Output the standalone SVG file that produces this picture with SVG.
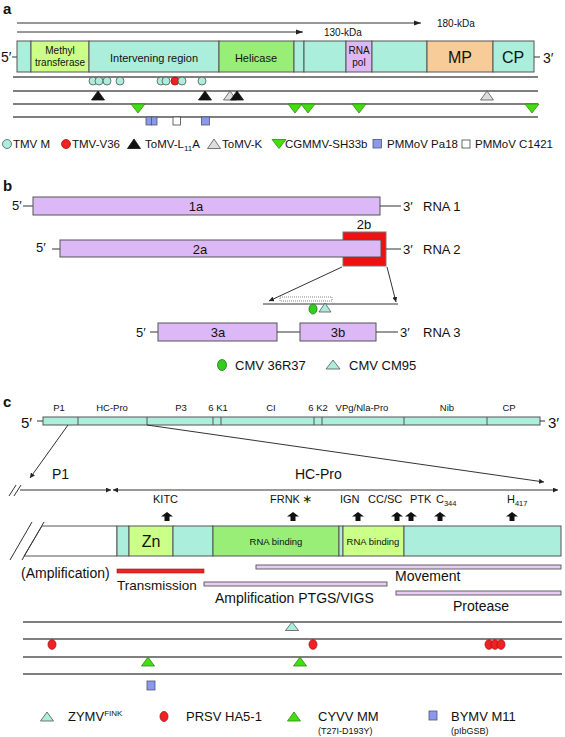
<svg xmlns="http://www.w3.org/2000/svg" width="565" height="737" viewBox="0 0 565 737">
<defs>
<marker id="ah" markerWidth="8" markerHeight="6" refX="7" refY="3" orient="auto" markerUnits="userSpaceOnUse"><path d="M0,0.5 L7,3 L0,5.5 Z" fill="#222"/></marker>
<marker id="ahs" markerWidth="6" markerHeight="5" refX="5" refY="2.5" orient="auto-start-reverse" markerUnits="userSpaceOnUse"><path d="M0,0 L5,2.5 L0,5 Z" fill="#222"/></marker>
<style>
text{font-family:"Liberation Sans",Arial,sans-serif;fill:#111}
.lbl{font-weight:bold;font-size:15px}
.seg{stroke:#555;stroke-width:1}
.teal{fill:#AAEEDB}
.ln{stroke:#555;stroke-width:1.3;fill:none}
.thin{stroke:#333;stroke-width:1;fill:none}
.tmvm{fill:#AAEEDB;stroke:#555;stroke-width:0.8}
.red{fill:#EE2222;stroke:#AA1111;stroke-width:0.8}
.blk{fill:#111;stroke:#111;stroke-width:0.8}
.gry{fill:#DDDDDD;stroke:#555;stroke-width:0.8}
.grn{fill:#44DD11;stroke:#338811;stroke-width:0.8}
.blue{fill:#8899EE;stroke:#556;stroke-width:0.8}
.wht{fill:#fff;stroke:#444;stroke-width:0.8}
.lav{fill:#DDB8F6;stroke:#555;stroke-width:1}
.bar{fill:#E8CCF2;stroke:#555;stroke-width:0.9}
.uparr{fill:#111}
.leg{font-size:11.5px}
</style>
</defs>

<!-- Panel a -->
<g id="panel-a">
<text class="lbl" x="3" y="14">a</text>
<g id="a-kda">
<line class="thin" x1="17" y1="23" x2="421" y2="23" marker-end="url(#ah)"/>
<text x="437" y="27" font-size="10">180-kDa</text>
<line class="thin" x1="17" y1="32" x2="303" y2="32" marker-end="url(#ah)"/>
<text x="324" y="36" font-size="10">130-kDa</text>
</g>
<g id="a-genome">
<line class="thin" x1="12" y1="57" x2="17" y2="57"/>
<text x="1" y="62" font-size="14">5′</text>
<rect class="teal seg" x="17" y="41" width="14" height="31"/>
<rect class="seg" x="31" y="41" width="58" height="31" fill="#CCFF88"/>
<text x="60" y="54" font-size="10" text-anchor="middle">Methyl</text>
<text x="60" y="66" font-size="10" text-anchor="middle">transferase</text>
<rect class="teal seg" x="89" y="41" width="130" height="31"/>
<text x="154" y="62" font-size="11" text-anchor="middle">Intervening region</text>
<rect class="seg" x="219" y="41" width="75" height="31" fill="#99EE77"/>
<text x="256" y="62" font-size="11" text-anchor="middle">Helicase</text>
<rect class="teal seg" x="294" y="41" width="10" height="31"/>
<rect class="teal seg" x="304" y="41" width="42" height="31"/>
<rect class="seg" x="346" y="41" width="26" height="31" fill="#DDB8F4"/>
<text x="359" y="54" font-size="10" text-anchor="middle">RNA</text>
<text x="359" y="66" font-size="10" text-anchor="middle">pol</text>
<rect class="teal seg" x="372" y="41" width="55" height="31"/>
<rect class="seg" x="427" y="41" width="66" height="31" fill="#F7CC99"/>
<text x="460" y="63" font-size="16" text-anchor="middle">MP</text>
<rect class="teal seg" x="493" y="41" width="41" height="31"/>
<text x="513" y="63" font-size="16" text-anchor="middle">CP</text>
<line class="thin" x1="534" y1="57" x2="540" y2="57"/>
<text x="543" y="63" font-size="14">3′</text>
</g>
<g id="a-lines">
<line class="ln" x1="13" y1="77" x2="538" y2="77"/>
<line class="ln" x1="13" y1="91" x2="538" y2="91"/>
<line class="ln" x1="13" y1="104" x2="538" y2="104"/>
<line class="ln" x1="13" y1="117" x2="538" y2="117"/>
</g>
<g id="a-markers">
<circle class="tmvm" cx="93" cy="81" r="4"/>
<circle class="tmvm" cx="99" cy="81" r="4"/>
<circle class="tmvm" cx="107" cy="81" r="4"/>
<circle class="tmvm" cx="120" cy="81" r="4"/>
<circle class="tmvm" cx="161" cy="81" r="4"/>
<circle class="tmvm" cx="166" cy="81" r="4"/>
<circle class="red" cx="175" cy="81" r="4"/>
<circle class="tmvm" cx="182" cy="81" r="4"/>
<circle class="tmvm" cx="202" cy="81" r="4"/>
<polygon class="blk" points="98,91 91.5,100 104.5,100"/>
<polygon class="blk" points="205,91 198.5,100 211.5,100"/>
<polygon class="gry" points="230,91 223.5,100 236.5,100"/>
<polygon class="blk" points="237,91 230.5,100 243.5,100"/>
<polygon class="gry" points="487,91 480.5,100 493.5,100"/>
<polygon class="grn" points="131,104 145,104 138,113"/>
<polygon class="grn" points="288,104 302,104 295,113"/>
<polygon class="grn" points="301,104 315,104 308,113"/>
<polygon class="grn" points="352,104 366,104 359,113"/>
<polygon class="grn" points="525,104 539,104 532,113"/>
<rect class="blue" x="146" y="117" width="5.5" height="8"/>
<rect class="blue" x="151.5" y="117" width="5.5" height="8"/>
<rect class="wht" x="173" y="117" width="7.5" height="8"/>
<rect class="blue" x="201.5" y="117" width="8" height="8"/>
</g>
<g id="a-legend">
<circle class="tmvm" cx="7" cy="144" r="4.5"/>
<text class="leg" x="13" y="148">TMV M</text>
<circle class="red" cx="66" cy="144" r="4.5"/>
<text class="leg" x="72" y="148">TMV-V36</text>
<polygon class="blk" points="134,139 127.5,148.5 140.5,148.5"/>
<text class="leg" x="145" y="148">ToMV-L<tspan font-size="8" dy="3">11</tspan><tspan dy="-3">A</tspan></text>
<polygon class="gry" points="214,139 207.5,148.5 220.5,148.5"/>
<text class="leg" x="222" y="148">ToMV-K</text>
<polygon class="grn" points="272,139.5 286,139.5 279,148.5"/>
<text class="leg" x="285" y="148">CGMMV-SH33b</text>
<rect class="blue" x="373" y="139.5" width="8.5" height="8.5"/>
<text class="leg" x="387" y="148">PMMoV Pa18</text>
<rect class="wht" x="462" y="140" width="8" height="8"/>
<text class="leg" x="475" y="148">PMMoV C1421</text>
</g>
</g>

<!-- Panel b -->
<g id="panel-b">
<text class="lbl" x="3" y="191">b</text>
<g id="rna1">
<text x="12" y="210" font-size="13">5′</text>
<line class="thin" x1="23" y1="206" x2="33" y2="206"/>
<rect class="lav" x="33" y="197" width="347" height="18"/>
<text x="196" y="211" font-size="13" text-anchor="middle">1a</text>
<line class="thin" x1="380" y1="206" x2="401" y2="206"/>
<text x="403" y="211" font-size="13">3′</text>
<text x="423" y="211" font-size="13">RNA 1</text>
</g>
<g id="rna2">
<text x="36" y="252" font-size="13">5′</text>
<line class="thin" x1="52" y1="249" x2="60" y2="249"/>
<rect x="343" y="232" width="43" height="34" fill="#EE1111" stroke="#777" stroke-width="1"/>
<rect class="lav" x="60" y="240" width="321" height="17"/>
<text x="200" y="254" font-size="13" text-anchor="middle">2a</text>
<text x="364" y="229" font-size="13" text-anchor="middle">2b</text>
<line class="thin" x1="386" y1="249" x2="401" y2="249"/>
<text x="403" y="254" font-size="13">3′</text>
<text x="423" y="254" font-size="13">RNA 2</text>
</g>
<g id="b-connectors">
<line class="thin" x1="342" y1="267" x2="269" y2="301" marker-end="url(#ahs)"/>
<line class="thin" x1="387" y1="267" x2="396" y2="302" marker-end="url(#ahs)"/>
</g>
<g id="b-detail">
<line class="thin" x1="263" y1="304" x2="398" y2="304"/>
<rect x="280" y="297" width="52" height="4" fill="#fff" stroke="#666" stroke-width="0.8" stroke-dasharray="1,1"/>
<ellipse cx="313" cy="309" rx="4" ry="5" fill="#33CC22" stroke="#227711" stroke-width="0.8"/>
<polygon class="tmvm" points="325,303 319,312 331,312"/>
</g>
<g id="rna3">
<text x="136" y="337" font-size="13">5′</text>
<line class="thin" x1="150" y1="332" x2="158" y2="332"/>
<rect class="lav" x="158" y="323" width="119" height="18"/>
<text x="218" y="337" font-size="13" text-anchor="middle">3a</text>
<line class="thin" x1="277" y1="332" x2="300" y2="332"/>
<rect class="lav" x="300" y="323" width="76" height="18"/>
<text x="338" y="337" font-size="13" text-anchor="middle">3b</text>
<line class="thin" x1="376" y1="332" x2="398" y2="332"/>
<text x="400" y="337" font-size="13">3′</text>
<text x="423" y="337" font-size="13">RNA 3</text>
</g>
<g id="b-legend">
<ellipse cx="222" cy="365" rx="4.5" ry="5.5" fill="#33CC22" stroke="#227711" stroke-width="0.8"/>
<text x="235" y="370" font-size="13">CMV 36R37</text>
<polygon class="tmvm" points="333,360 326,369 340,369"/>
<text x="349" y="370" font-size="13">CMV CM95</text>
</g>
</g>

<!-- Panel c -->
<g id="panel-c">
<text class="lbl" x="3" y="407">c</text>
<g id="c-polyprotein">
<text x="59" y="411" font-size="9.5" text-anchor="middle">P1</text>
<text x="112" y="411" font-size="9.5" text-anchor="middle">HC-Pro</text>
<text x="181" y="411" font-size="9.5" text-anchor="middle">P3</text>
<text x="218" y="411" font-size="9.5" text-anchor="middle">6 K1</text>
<text x="271" y="411" font-size="9.5" text-anchor="middle">CI</text>
<text x="318" y="411" font-size="9.5" text-anchor="middle">6 K2</text>
<text x="362" y="411" font-size="9.5" text-anchor="middle">VPg/Nla-Pro</text>
<text x="447" y="411" font-size="9.5" text-anchor="middle">Nib</text>
<text x="509" y="411" font-size="9.5" text-anchor="middle">CP</text>
<text x="21" y="428" font-size="15">5′</text>
<line class="thin" x1="37" y1="421" x2="43" y2="421"/>
<rect class="teal seg" x="43" y="417" width="497" height="8"/>
<line class="seg" x1="78" y1="417" x2="78" y2="425"/>
<line class="seg" x1="147" y1="417" x2="147" y2="425"/>
<line class="seg" x1="213" y1="417" x2="213" y2="425"/>
<line class="seg" x1="221" y1="417" x2="221" y2="425"/>
<line class="seg" x1="314" y1="417" x2="314" y2="425"/>
<line class="seg" x1="322" y1="417" x2="322" y2="425"/>
<line class="seg" x1="404" y1="417" x2="404" y2="425"/>
<line class="seg" x1="487" y1="417" x2="487" y2="425"/>
<line class="thin" x1="540" y1="421" x2="545" y2="421"/>
<text x="548" y="428" font-size="15">3′</text>
</g>
<g id="c-connectors">
<line class="thin" x1="68" y1="425" x2="30" y2="478" marker-end="url(#ahs)"/>
<line class="thin" x1="147" y1="425" x2="544" y2="482" marker-end="url(#ahs)"/>
<line class="thin" x1="20" y1="490" x2="111" y2="490" marker-end="url(#ahs)"/>
<line class="thin" x1="113" y1="490" x2="558" y2="490" marker-start="url(#ahs)" marker-end="url(#ahs)"/>
<line class="thin" x1="9" y1="496" x2="16" y2="485"/>
<line class="thin" x1="14" y1="496" x2="21" y2="485"/>
</g>
<text x="52" y="479" font-size="14">P1</text>
<text x="295" y="479" font-size="14">HC-Pro</text>
<g id="c-sites">
<text x="153" y="503" font-size="11">KITC</text>
<text x="270" y="503" font-size="11">FRNK<tspan font-family="'DejaVu Sans',sans-serif" font-size="12" dx="2">∗</tspan></text>
<text x="340" y="503" font-size="11">IGN</text>
<text x="368" y="503" font-size="11">CC/SC</text>
<text x="410" y="503" font-size="11">PTK</text>
<text x="436" y="503" font-size="11">C<tspan font-size="7.5" dy="3">344</tspan></text>
<text x="507" y="503" font-size="11">H<tspan font-size="7.5" dy="3">417</tspan></text>
<polygon class="uparr" points="167,512 173,516.5 169.5,516.5 169.5,521 164.5,521 164.5,516.5 161,516.5"/>
<polygon class="uparr" points="293,512 299,516.5 295.5,516.5 295.5,521 290.5,521 290.5,516.5 287,516.5"/>
<polygon class="uparr" points="358,512 364,516.5 360.5,516.5 360.5,521 355.5,521 355.5,516.5 352,516.5"/>
<polygon class="uparr" points="397,512 403,516.5 399.5,516.5 399.5,521 394.5,521 394.5,516.5 391,516.5"/>
<polygon class="uparr" points="411,512 417,516.5 413.5,516.5 413.5,521 408.5,521 408.5,516.5 405,516.5"/>
<polygon class="uparr" points="440,512 446,516.5 442.5,516.5 442.5,521 437.5,521 437.5,516.5 434,516.5"/>
<polygon class="uparr" points="512,512 518,516.5 514.5,516.5 514.5,521 509.5,521 509.5,516.5 506,516.5"/>
</g>
<g id="hcpro-box">
<polygon points="42,526 117,526 117,556 24,556" fill="#fff" stroke="#555" stroke-width="1"/>
<line class="thin" x1="10" y1="560" x2="32" y2="522"/>
<line class="thin" x1="22" y1="560" x2="44" y2="522"/>
<rect class="teal seg" x="117" y="526" width="12" height="30"/>
<rect class="seg" x="129" y="526" width="44" height="30" fill="#CCFF88"/>
<text x="151" y="547" font-size="16" text-anchor="middle">Zn</text>
<rect class="teal seg" x="173" y="526" width="40" height="30"/>
<rect class="seg" x="213" y="526" width="126" height="30" fill="#99EE77"/>
<text x="276" y="545" font-size="9.5" text-anchor="middle">RNA binding</text>
<rect class="teal seg" x="339" y="526" width="4" height="30"/>
<rect class="seg" x="343" y="526" width="61" height="30" fill="#CCFF88"/>
<text x="373" y="545" font-size="9.5" text-anchor="middle">RNA binding</text>
<rect class="teal seg" x="404" y="526" width="157" height="30"/>
</g>
<g id="functions">
<text x="21" y="578" font-size="14">(Amplification)</text>
<rect x="117" y="569" width="87" height="4" fill="#EE2222" stroke="#AA1111" stroke-width="0.6"/>
<text x="117" y="590" font-size="13.5">Transmission</text>
<rect class="bar" x="256" y="565" width="305" height="4"/>
<text x="395" y="581" font-size="14">Movement</text>
<rect class="bar" x="204" y="582" width="183" height="4"/>
<text x="215" y="603" font-size="14">Amplification PTGS/VIGS</text>
<rect class="bar" x="396" y="591" width="165" height="4"/>
<text x="453" y="611" font-size="14">Protease</text>
</g>
<g id="c-lines">
<line class="ln" x1="23" y1="622" x2="562" y2="622"/>
<line class="ln" x1="23" y1="639" x2="562" y2="639"/>
<line class="ln" x1="23" y1="657" x2="562" y2="657"/>
<line class="ln" x1="23" y1="674" x2="562" y2="674"/>
</g>
<g id="c-markers">
<polygon class="tmvm" points="292,622 285.5,630.5 298.5,630.5"/>
<ellipse class="red" cx="52" cy="644.5" rx="4" ry="4.8"/>
<ellipse class="red" cx="313" cy="644.5" rx="4" ry="4.8"/>
<ellipse class="red" cx="489" cy="644.5" rx="4" ry="4.8"/>
<ellipse class="red" cx="495" cy="644.5" rx="4" ry="4.8"/>
<ellipse class="red" cx="501" cy="644.5" rx="4" ry="4.8"/>
<polygon class="grn" points="148,657 141.5,666 154.5,666"/>
<polygon class="grn" points="300,657 293.5,666 306.5,666"/>
<rect class="blue" x="147" y="681" width="8" height="9"/>
</g>
<g id="c-legend">
<polygon class="tmvm" points="47,712 40.5,721 53.5,721"/>
<text x="68" y="721" font-size="13">ZYMV<tspan font-size="8" dy="-5">FINK</tspan></text>
<ellipse class="red" cx="164" cy="716.5" rx="4" ry="5"/>
<text x="186" y="721" font-size="13">PRSV HA5-1</text>
<polygon class="grn" points="294,712 287.5,721 300.5,721"/>
<text x="318" y="721" font-size="13">CYVV MM</text>
<text x="318" y="734" font-size="9">(T27I-D193Y)</text>
<rect class="blue" x="429" y="711" width="8" height="9"/>
<text x="451" y="721" font-size="13">BYMV M11</text>
<text x="451" y="734" font-size="9">(pIbGSB)</text>
</g>
</g>
</svg>
